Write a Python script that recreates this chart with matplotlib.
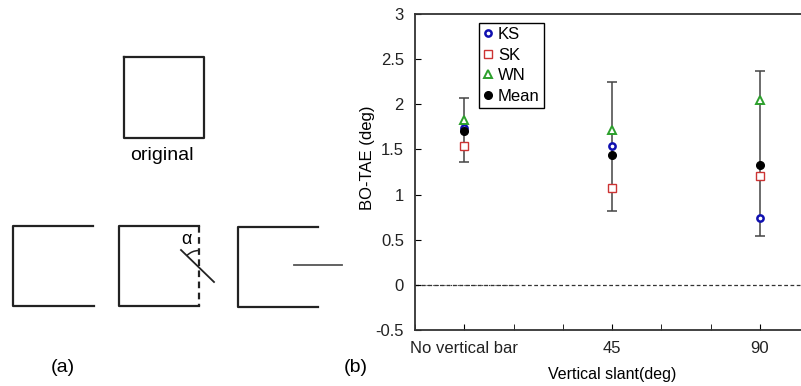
import numpy as np
import matplotlib.pyplot as plt
from matplotlib.patches import Arc

plt.rcParams['font.family'] = ['Liberation Sans', 'DejaVu Sans']

# datos del panel (b)
conditions = ['No vertical bar', '45', '90']
ks = [1.735, 1.54, 0.74]
sk = [1.54, 1.07, 1.21]
wn = [1.83, 1.72, 2.05]
mean = [1.705, 1.44, 1.33]
err_low = [1.36, 0.82, 0.54]
err_high = [2.07, 2.25, 2.37]

fig = plt.figure(figsize=(8.01, 3.86), dpi=100)

# panel (a): dibujo de las figuras, en coordenadas de pixel
ax0 = fig.add_axes([0, 0, 1, 1])
ax0.set_xlim(0, 801)
ax0.set_ylim(386, 0)
ax0.axis('off')

lw = 1.6
# cuadrado original
ax0.plot([124, 204, 204, 124, 124], [57, 57, 138, 138, 57], color='#222222', lw=lw)
ax0.text(162, 155, 'original', ha='center', va='center', fontsize=14)
# figura 1: sin barra vertical
ax0.plot([93, 13, 13, 94], [226, 226, 306, 306], color='#222222', lw=lw)
# figura 2: barra inclinada
ax0.plot([199, 119, 119, 199], [226, 226, 306, 306], color='#222222', lw=lw)
ax0.plot([199, 199], [226, 306], color='#222222', lw=lw, ls=(0, (3, 2)))
ax0.plot([181, 214], [250, 282], color='#222222', lw=1.3)
ax0.add_patch(Arc((199, 267.5), 34, 34, theta1=224, theta2=270, color='#222222', lw=1.1))
ax0.text(186, 239, '\u03b1', ha='center', va='center', fontsize=13)
# figura 3: barra horizontal
ax0.plot([318, 238, 238, 318], [227, 227, 307, 307], color='#222222', lw=lw)
ax0.plot([294, 342], [265, 265], color='#555555', lw=1.3)
ax0.text(63, 368, '(a)', ha='center', va='center', fontsize=14)
ax0.text(356, 368, '(b)', ha='center', va='center', fontsize=14)

# panel (b): grafica
ax = fig.add_axes([415 / 801, 56 / 386, 394 / 801, 316 / 386])
x = np.arange(1, len(conditions) + 1)

yerr = [np.array(mean) - np.array(err_low), np.array(err_high) - np.array(mean)]
ax.errorbar(x, mean, yerr=yerr, fmt='none', ecolor='#444444', elinewidth=1.1,
            capsize=3.5, capthick=1.1, zorder=2)
ax.axhline(0, color='#333333', lw=0.9, ls=(0, (3, 2)), zorder=1)
ax.plot([2 / 3, 4 / 3], [0, 0], color='#333333', lw=0.8, ls=(0, (1, 1)), zorder=1)

ax.plot(x, ks, 'o', ms=4.5, mfc='white', mec='#1010b0', mew=1.8, label='KS', zorder=3)
ax.plot(x, sk, 's', ms=6, mfc='white', mec='#cc3333', mew=1.0, label='SK', zorder=3)
ax.plot(x, wn, '^', ms=6, mfc='white', mec='#2ca02c', mew=1.4, label='WN', zorder=4)
ax.plot(x, mean, 'o', ms=5.5, color='black', label='Mean', zorder=5)

ax.set_xlim(2 / 3, 3 + 1 / 3)
ax.set_ylim(-0.5, 3)
ax.set_yticks(np.arange(-0.5, 3.01, 0.5))
ax.set_yticklabels(['-0.5', '0', '0.5', '1', '1.5', '2', '2.5', '3'])
ax.set_xticks(x)
ax.set_xticklabels(conditions)
ax.set_xticks(np.arange(2 / 3, 3.4, 1 / 3), minor=True)
ax.tick_params(direction='in', length=4, labelsize=12, pad=8, labelcolor='#222222')
ax.tick_params(which='minor', direction='in', length=4)
for s in ax.spines.values():
    s.set_linewidth(1.3)
    s.set_color('#333333')

ax.set_ylabel('BO-TAE (deg)', fontsize=12)
ax.yaxis.set_label_coords(-0.1015, 0.544)
ax.set_xlabel('Vertical slant(deg)', fontsize=11.5, labelpad=8)

leg = ax.legend(loc='upper left', bbox_to_anchor=(0.162, 0.972), borderaxespad=0,
                fancybox=False, edgecolor='black', framealpha=1, fontsize=12,
                handlelength=0.6, handletextpad=0.3, borderpad=0.25, labelspacing=0.33)
leg.get_frame().set_linewidth(1.0)

fig.savefig('out.png', dpi=100)
